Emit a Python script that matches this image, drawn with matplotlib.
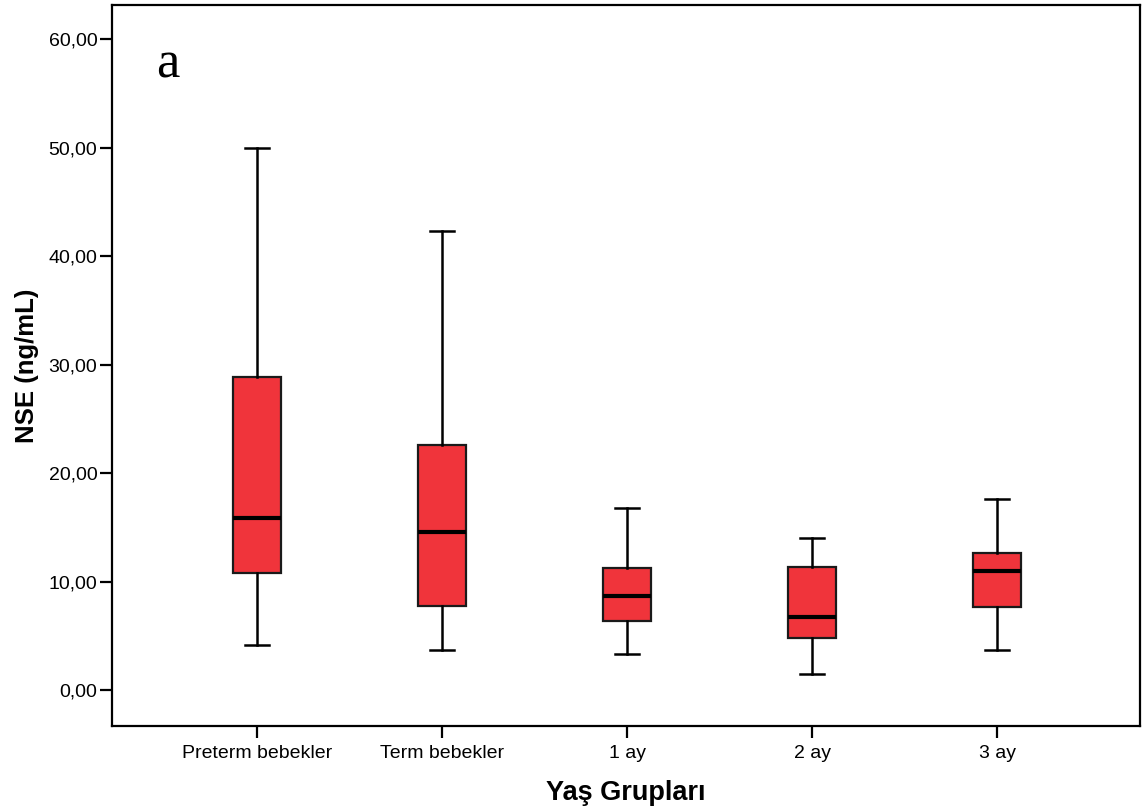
import matplotlib
matplotlib.use("Agg")
import matplotlib.pyplot as plt

# Values (NSE, ng/mL)
groups = ['Preterm bebekler', 'Term bebekler', '1 ay', '2 ay', '3 ay']
whisker_low = [4.12, 3.69, 3.35, 1.50, 3.66]
q1 = [10.82, 7.77, 6.39, 4.82, 7.68]
median = [15.86, 14.57, 8.70, 6.76, 10.95]
q3 = [28.89, 22.59, 11.22, 11.34, 12.63]
whisker_high = [49.98, 42.32, 16.78, 14.02, 17.61]
yticks = [0, 10, 20, 30, 40, 50, 60]

BOX_COLOR = '#f0343b'

plt.rcParams['font.family'] = ['Liberation Sans', 'DejaVu Sans']

fig = plt.figure(figsize=(11.46, 8.11), dpi=100)
ax = fig.add_axes([112 / 1146, 1 - 726 / 811, (1140 - 112) / 1146, (726 - 5) / 811])

stats = []
for i, name in enumerate(groups):
    stats.append({
        'label': name,
        'whislo': whisker_low[i],
        'q1': q1[i],
        'med': median[i],
        'q3': q3[i],
        'whishi': whisker_high[i],
        'fliers': [],
    })

positions = list(range(1, len(groups) + 1))
ax.bxp(stats, positions=positions, widths=0.255, patch_artist=True,
       showfliers=False, capwidths=0.125,
       boxprops=dict(facecolor=BOX_COLOR, edgecolor='#1a1a1a', linewidth=1.6),
       medianprops=dict(color='black', linewidth=3),
       whiskerprops=dict(color='black', linewidth=1.8),
       capprops=dict(color='black', linewidth=1.8))

ax.set_xlim(0.216, 5.773)
ax.set_ylim(-3.32, 63.16)

ax.set_yticks(yticks)
ax.set_yticklabels(['%d,00' % v for v in yticks])
ax.set_xticks(positions)
ax.set_xticklabels(groups)

ax.tick_params(axis='both', direction='out', length=8.5, width=1.6,
               labelsize=14, color='black')
ax.tick_params(axis='y', pad=2)
ax.tick_params(axis='x', pad=5)

for sp in ax.spines.values():
    sp.set_linewidth(1.6)
    sp.set_color('black')

ax.set_ylabel('NSE (ng/mL)', fontsize=18.5, fontweight='bold', labelpad=7)
ax.set_xlabel('Yaş Grupları', fontsize=19.5, fontweight='bold', labelpad=13)

ax.text(0.054, 0.900, 'a', transform=ax.transAxes, fontsize=38,
        family=['Liberation Serif', 'DejaVu Serif'], ha='center', va='baseline')

fig.savefig('out.png', dpi=100)
